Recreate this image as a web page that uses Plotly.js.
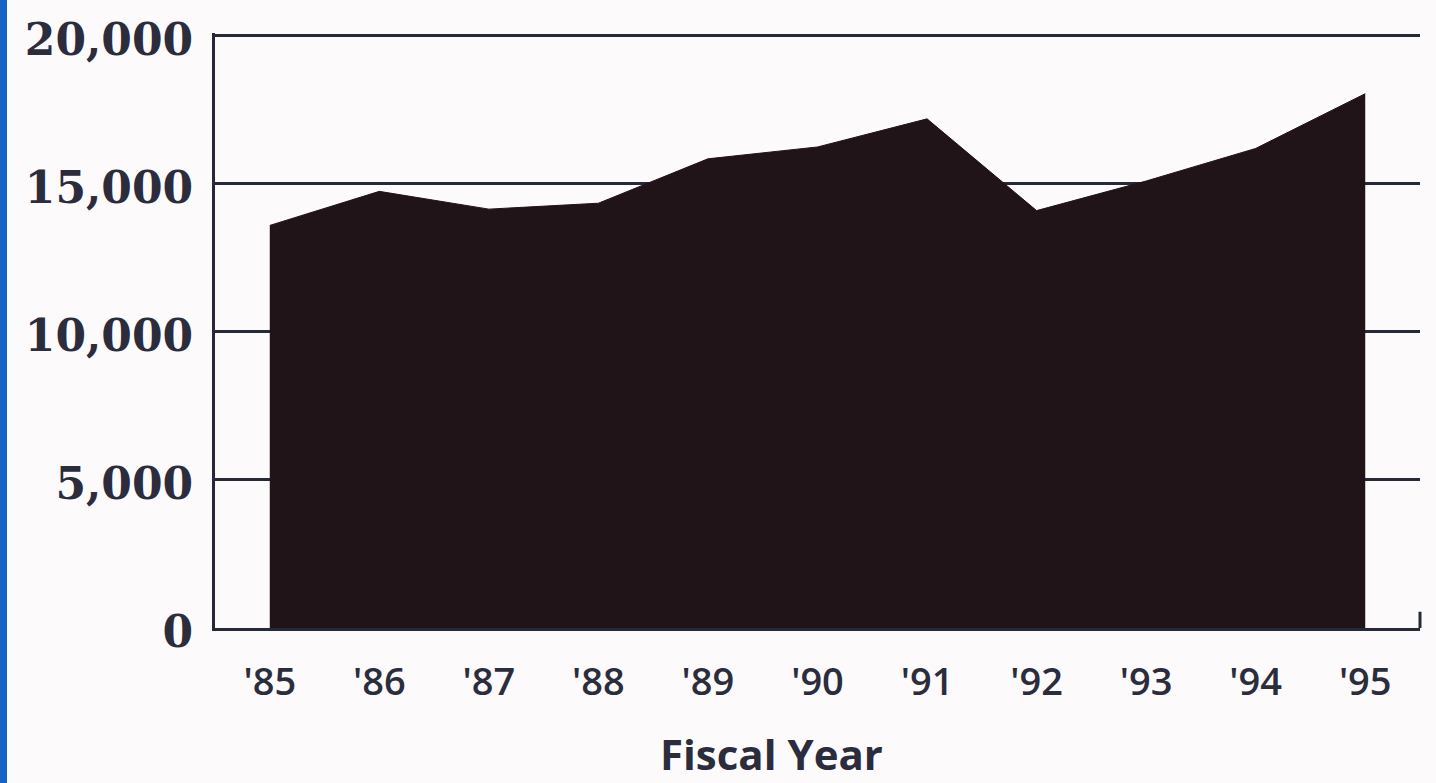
<!DOCTYPE html>
<html>
<head>
<meta charset="utf-8">
<script src="https://cdn.plot.ly/plotly-3.0.1.min.js"></script>
<style>
  html, body { margin: 0; padding: 0; background: #fcfafb; }
  #edge { position: absolute; left: 0; top: 0; width: 7px; height: 783px; background: #1763c4; z-index: 2; }
  #chart { width: 1436px; height: 783px; }
</style>
</head>
<body>
<div id="edge"></div>
<div id="chart"></div>
<script>
// Fiscal years shown on the horizontal axis
const years = [85, 86, 87, 88, 89, 90, 91, 92, 93, 94, 95];
const yearLabels = ["'85", "'86", "'87", "'88", "'89", "'90", "'91", "'92", "'93", "'94", "'95"];
// Yearly totals
const totals = [13600, 14750, 14150, 14350, 15850, 16250, 17200, 14100, 15100, 16200, 18050];
// Vertical axis ticks
const yTicks = [0, 5000, 10000, 15000, 20000];
const yTickLabels = ['0', '5,000', '10,000', '15,000', '20,000'];

const ink = '#262a38';
const fillInk = '#211418';

const trace = {
  type: 'scatter',
  mode: 'lines',
  x: years,
  y: totals,
  fill: 'tozeroy',
  fillcolor: fillInk,
  line: { color: fillInk, width: 1 },
  hoverinfo: 'skip',
  showlegend: false
};

const layout = {
  width: 1436,
  height: 783,
  margin: { l: 215, r: 16, t: 33, b: 155 },
  paper_bgcolor: '#fcfafb',
  plot_bgcolor: '#fcfafb',
  showlegend: false,
  xaxis: {
    range: [84.5, 95.5],
    tickmode: 'array',
    tickvals: years,
    ticktext: yearLabels,
    showgrid: false,
    zeroline: false,
    showline: true,
    linecolor: ink,
    linewidth: 3,
    ticks: '',
    ticklabelstandoff: 18,
    tickfont: { family: 'Open Sans', size: 38, color: '#2b2d3d', weight: 600 }
  },
  yaxis: {
    // a little headroom so the 20,000 rule is drawn inside the plot
    range: [0, 20100],
    tickmode: 'array',
    tickvals: yTicks,
    ticktext: yTickLabels,
    showgrid: true,
    gridcolor: ink,
    gridwidth: 3,
    zeroline: false,
    showline: true,
    linecolor: ink,
    linewidth: 3,
    ticks: '',
    ticklabelstandoff: 10,
    ticklabelshift: 4,
    tickfont: { family: 'DejaVu Serif', size: 44, color: '#2b2d3d', weight: 'bold' }
  },
  shapes: [
    { type: 'line', xref: 'paper', yref: 'y', x0: 1, x1: 1, y0: 0, y1: 550,
      line: { color: ink, width: 3 } }
  ],
  annotations: [
    { text: 'Fiscal Year', xref: 'paper', yref: 'paper', x: 0.462, y: -0.211,
      xanchor: 'center', yanchor: 'middle', showarrow: false,
      font: { family: 'Open Sans', size: 42, color: '#2b2d3d', weight: 'bold' } }
  ]
};

Plotly.newPlot('chart', [trace], layout, { displayModeBar: false, staticPlot: true });
</script>
</body>
</html>
